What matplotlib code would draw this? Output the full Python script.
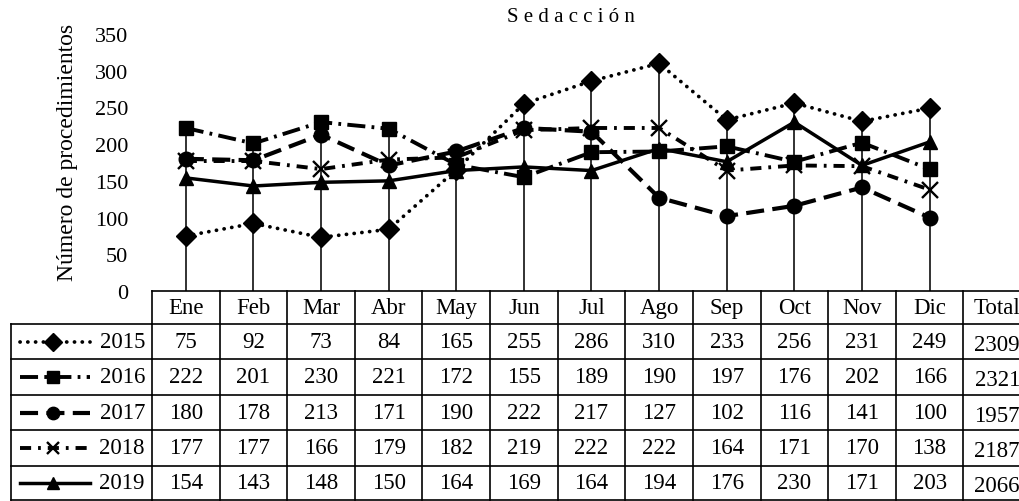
import numpy as np
import matplotlib
matplotlib.use("Agg")
import matplotlib.pyplot as plt
from matplotlib.transforms import blended_transform_factory

plt.rcParams['font.family'] = ['Liberation Serif', 'DejaVu Serif']
plt.rcParams['lines.scale_dashes'] = False

meses = ['Ene', 'Feb', 'Mar', 'Abr', 'May', 'Jun', 'Jul', 'Ago', 'Sep', 'Oct', 'Nov', 'Dic']
anios = ['2015', '2016', '2017', '2018', '2019']
v2015 = [75, 92, 73, 84, 165, 255, 286, 310, 233, 256, 231, 249]
v2016 = [222, 201, 230, 221, 172, 155, 189, 190, 197, 176, 202, 166]
v2017 = [180, 178, 213, 171, 190, 222, 217, 127, 102, 116, 141, 100]
v2018 = [177, 177, 166, 179, 182, 219, 222, 222, 164, 171, 170, 138]
v2019 = [154, 143, 148, 150, 164, 169, 164, 194, 176, 230, 171, 203]
totales = [2309, 2321, 1957, 2187, 2066]

series = [v2015, v2016, v2017, v2018, v2019]

# estilo de cada año: trazo, marcador, tamaño
estilos = [
    dict(ls=(0, (0.1, 5.5)), marker='D', ms=10.5, lw=2.7, dash_capstyle='round'),
    dict(ls=(0, (13, 4.5, 2, 4.5)), marker='s', ms=10, lw=2.8),
    dict(ls=(0, (13, 6)), marker='o', ms=10.5, lw=3.0),
    dict(ls=(0, (8, 5, 2, 5)), marker='x', ms=11, lw=2.8, mew=1.7),
    dict(ls='-', marker='^', ms=10.5, lw=2.5),
]

W, H = 1020, 502
fig = plt.figure(figsize=(W / 100, H / 100), dpi=100)
ax = fig.add_axes([152 / W, 210 / H, (1031 - 152) / W, 257 / H])

x = np.arange(len(meses))
ax.vlines(x, 0, np.max(series, axis=0), color='#222222', lw=1.3, zorder=1)

for vals, st in zip(series, estilos):
    ax.plot(x, vals, color='black', zorder=3, **st)

ax.set_xlim(-0.5, 12.5)
ax.set_ylim(0, 350)
ax.set_yticks(range(0, 351, 50))
ax.tick_params(axis='y', length=0, pad=17, labelsize=16)
ax.set_xticks([])
for s in ax.spines.values():
    s.set_visible(False)

fig.text(68 / W, 1 - 152 / H, 'Número de procedimientos', rotation=90,
         ha='center', va='center', fontsize=17)
fig.text(571 / W, 1 - 18 / H, 'S e d a c c i ó n', ha='center', va='center', fontsize=15)

# tabla de datos debajo del eje
tr = blended_transform_factory(ax.transData, fig.transFigure)
fy = lambda p: 1 - p / H
filas = [292, 325, 360, 396, 431, 467, 501]
kw = dict(color='black', lw=1.2, clip_on=False, solid_capstyle='projecting')

ax.plot([-0.5, 12.5], [fy(filas[0])] * 2, transform=tr, **kw)
for yb in filas[1:]:
    fig.add_artist(plt.Line2D([11 / W, 152 / W], [fy(yb)] * 2, **kw))
    ax.plot([-0.5, 12.5], [fy(yb)] * 2, transform=tr, **kw)
fig.add_artist(plt.Line2D([11 / W] * 2, [fy(filas[1]), fy(filas[-1])], **kw))
for xb in np.arange(-0.5, 13.0, 1.0):
    ax.plot([xb, xb], [fy(filas[0]), fy(filas[-1])], transform=tr, **kw)

encabezados = meses + ['Total']
yh = fy((filas[0] + filas[1]) / 2)
for i, t in enumerate(encabezados):
    ax.text(i, yh, t, transform=tr, ha='center', va='center', fontsize=16.5)

for r, (vals, st, anio, tot) in enumerate(zip(series, estilos, anios, totales)):
    yc = fy((filas[r + 1] + filas[r + 2]) / 2)
    for i, v in enumerate(vals):
        ax.text(i, yc, str(v), transform=tr, ha='center', va='center', fontsize=16.5)
    ax.text(12, yc - 3 / H, str(tot), transform=tr, ha='center', va='center', fontsize=16.5)
    # muestra de la serie en la columna de etiquetas
    ms = st['ms'] * 0.85
    fig.add_artist(plt.Line2D([20 / W, 90 / W], [yc, yc], color='black',
                              transform=fig.transFigure,
                              **{k: v for k, v in st.items() if k not in ('marker', 'ms', 'mew')}))
    fig.add_artist(plt.Line2D([53 / W], [yc], marker=st['marker'], ms=ms,
                              mew=st.get('mew', 1), color='black', ls='none',
                              transform=fig.transFigure))
    fig.text(145 / W, yc, anio, ha='right', va='center', fontsize=16.5)

fig.savefig('out.png', dpi=100)
